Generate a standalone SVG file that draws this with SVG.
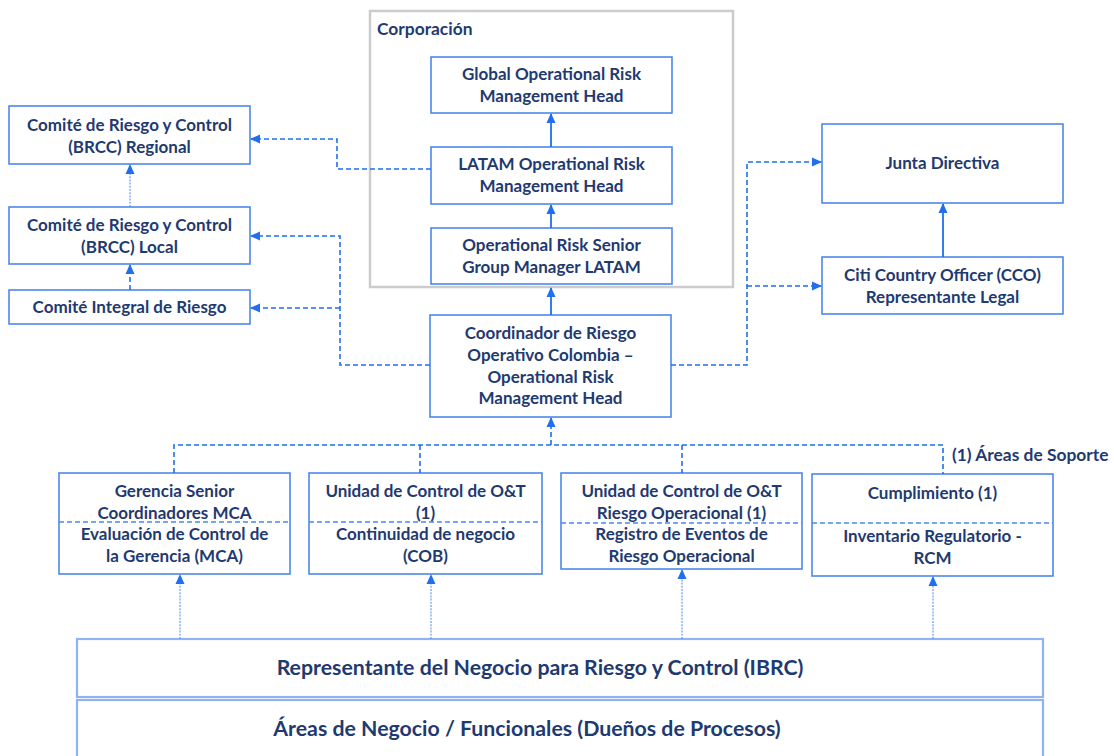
<svg xmlns="http://www.w3.org/2000/svg" width="1114" height="756" viewBox="0 0 1114 756">
<defs>
<marker id="ah" markerUnits="userSpaceOnUse" markerWidth="10" markerHeight="10" viewBox="0 0 10 10" refX="9" refY="5" orient="auto">
<path d="M0,0.5 L10,5 L0,9.5 Z" fill="#1f6fef"/>
</marker>
<style>
.bg{fill:#ffffff}
.corp{fill:#ffffff;stroke:#cccccc;stroke-width:2.5}
.box{fill:#ffffff;stroke:#4d88ea;stroke-width:1.6}
.boxl{fill:#ffffff;stroke:#8fb3f3;stroke-width:2.2}
.div{stroke:#4d88ea;stroke-width:1.5;stroke-dasharray:5 3;fill:none}
.t{font-family:Lato,"Open Sans",sans-serif;font-weight:bold;font-size:17px;fill:#1f3a70;text-anchor:middle}
.tl{font-family:Lato,"Open Sans",sans-serif;font-weight:bold;font-size:17.4px;fill:#1f3a70}
.tb{font-family:Lato,"Open Sans",sans-serif;font-weight:bold;font-size:21.3px;fill:#1f3a70;text-anchor:middle}
.dash{fill:none;stroke:#1f6fef;stroke-width:1.6;stroke-dasharray:5 3}
.solid{fill:none;stroke:#1f6fef;stroke-width:1.8}
.dot{fill:none;stroke:#5b93f0;stroke-width:1.1;stroke-dasharray:2 1.2}
</style>
</defs>
<rect class="bg" x="0" y="0" width="1114" height="756"/>

<g id="corporacion">
<rect class="corp" x="370" y="11" width="363" height="276"/>
<text class="tl" x="377" y="35">Corporación</text>
</g>

<g id="global">
<rect class="box" x="431" y="57" width="241" height="56"/>
<text class="t" x="551.5" y="80">Global Operational Risk</text>
<text class="t" x="551.5" y="102">Management Head</text>
</g>
<g id="latam">
<rect class="box" x="431" y="147" width="241" height="57"/>
<text class="t" x="551.5" y="170">LATAM Operational Risk</text>
<text class="t" x="551.5" y="192">Management Head</text>
</g>
<g id="senior">
<rect class="box" x="431" y="228" width="241" height="56"/>
<text class="t" x="551.5" y="251">Operational Risk Senior</text>
<text class="t" x="551.5" y="273">Group Manager LATAM</text>
</g>

<g id="regional">
<rect class="box" x="9" y="106" width="241" height="58"/>
<text class="t" x="129.5" y="131">Comité de Riesgo y Control</text>
<text class="t" x="129.5" y="153">(BRCC) Regional</text>
</g>
<g id="local">
<rect class="box" x="9" y="207" width="241" height="57"/>
<text class="t" x="129.5" y="231">Comité de Riesgo y Control</text>
<text class="t" x="129.5" y="253">(BRCC) Local</text>
</g>
<g id="integral">
<rect class="box" x="9" y="290" width="241" height="34"/>
<text class="t" x="129.5" y="313">Comité Integral de Riesgo</text>
</g>

<g id="junta">
<rect class="box" x="822" y="124" width="241" height="79"/>
<text class="t" x="942.5" y="169">Junta Directiva</text>
</g>
<g id="cco">
<rect class="box" x="822" y="257" width="241" height="57"/>
<text class="t" x="942.5" y="281">Citi Country Officer (CCO)</text>
<text class="t" x="942.5" y="303">Representante Legal</text>
</g>

<g id="coordinador">
<rect class="box" x="430" y="315" width="241" height="102"/>
<text class="t" x="550.5" y="339">Coordinador de Riesgo</text>
<text class="t" x="550.5" y="361">Operativo Colombia –</text>
<text class="t" x="550.5" y="383">Operational Risk</text>
<text class="t" x="550.5" y="404">Management Head</text>
</g>

<g id="gerencia">
<rect class="box" x="59" y="473" width="231" height="101"/>
<line class="div" x1="59" y1="522" x2="290" y2="522"/>
<text class="t" x="174.5" y="497">Gerencia Senior</text>
<text class="t" x="174.5" y="519">Coordinadores MCA</text>
<text class="t" x="174.5" y="540">Evaluación de Control de</text>
<text class="t" x="174.5" y="562">la Gerencia (MCA)</text>
</g>
<g id="unidad-cob">
<rect class="box" x="309" y="473" width="233" height="101"/>
<line class="div" x1="309" y1="522" x2="542" y2="522"/>
<text class="t" x="425.5" y="497">Unidad de Control de O&amp;T</text>
<text class="t" x="425.5" y="519">(1)</text>
<text class="t" x="425.5" y="540">Continuidad de negocio</text>
<text class="t" x="425.5" y="562">(COB)</text>
</g>
<g id="unidad-ro">
<rect class="box" x="561" y="473" width="241" height="96"/>
<line class="div" x1="561" y1="523" x2="802" y2="523"/>
<text class="t" x="681.5" y="497">Unidad de Control de O&amp;T</text>
<text class="t" x="681.5" y="519">Riesgo Operacional (1)</text>
<text class="t" x="681.5" y="540">Registro de Eventos de</text>
<text class="t" x="681.5" y="562">Riesgo Operacional</text>
</g>
<g id="cumplimiento">
<rect class="box" x="812" y="474" width="241" height="102"/>
<line class="div" x1="812" y1="523" x2="1053" y2="523"/>
<text class="t" x="932.5" y="499">Cumplimiento (1)</text>
<text class="t" x="932.5" y="542">Inventario Regulatorio -</text>
<text class="t" x="932.5" y="564">RCM</text>
</g>
<g id="nota">
<text class="tl" x="952" y="461">(1) Áreas de Soporte</text>
</g>

<g id="ibrc">
<rect class="boxl" x="77" y="639" width="966" height="58"/>
<text class="tb" x="540" y="675">Representante del Negocio para Riesgo y Control (IBRC)</text>
</g>
<g id="areas">
<rect class="boxl" x="77" y="700" width="966" height="60"/>
<text class="tb" x="527" y="736">Áreas de Negocio / Funcionales (Dueños de Procesos)</text>
</g>

<g id="connectors">
<path class="solid" d="M551,147 V114" marker-end="url(#ah)"/>
<path class="solid" d="M551,228 V205" marker-end="url(#ah)"/>
<path class="solid" d="M551,315 V288" marker-end="url(#ah)"/>
<path class="solid" d="M943,257 V204" marker-end="url(#ah)"/>
<path class="dash" d="M431,169 H337 V139 H251" marker-end="url(#ah)"/>
<path class="dash" d="M430,365 H340 V236 H251" marker-end="url(#ah)"/>
<path class="dash" d="M340,308 H251" marker-end="url(#ah)"/>
<path class="dash" d="M671,365 H747 V162 H821" marker-end="url(#ah)"/>
<path class="dash" d="M747,286 H821" marker-end="url(#ah)"/>
<path class="dot" d="M130,207 V165" marker-end="url(#ah)"/>
<path class="dash" d="M130,290 V265" marker-end="url(#ah)"/>
<path class="dash" d="M174,473 V445 H943 V474"/>
<path class="dash" d="M420,445 V473"/>
<path class="dash" d="M682,445 V473"/>
<path class="dash" d="M551,445 V418" marker-end="url(#ah)"/>
<path class="dot" d="M180,639 V575" marker-end="url(#ah)"/>
<path class="dot" d="M431,639 V575" marker-end="url(#ah)"/>
<path class="dot" d="M682,639 V570" marker-end="url(#ah)"/>
<path class="dot" d="M933,639 V577" marker-end="url(#ah)"/>
</g>
</svg>
